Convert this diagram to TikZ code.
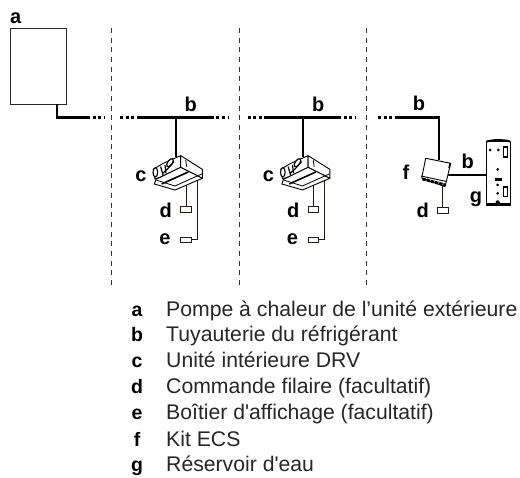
\documentclass[tikz,border=0pt]{standalone}
\usepackage{fontspec}
\setmainfont{Liberation Sans}
\tikzset{
  x=1pt,y=-1pt,
  pipe/.style={line width=2.1pt,black},
  pipedots/.style={line width=2.1pt,black,dash pattern=on 3pt off 2.6pt},
  wire/.style={line width=0.8pt,black!80!brown},
  divider/.style={line width=0.7pt,black!80,dash pattern=on 5pt off 4.7pt},
  tag/.style={font=\bfseries\fontsize{20}{20}\selectfont,inner sep=0pt,anchor=base},
  legkey/.style={font=\bfseries\fontsize{19.5}{19.5}\selectfont,inner sep=0pt,anchor=base},
  legtext/.style={font=\fontsize{21.2}{21.2}\selectfont,inner sep=0pt,anchor=base west,black!85},
  ctrl/.style={draw=black!80!brown,fill=white,line width=0.8pt,minimum width=10.5pt,minimum height=5.5pt,inner sep=0pt},
  outl/.style={draw=black,fill=white,line width=0.9pt,line join=round},
}
\newcommand{\vrfunit}[1]{%
\begin{scope}[shift={(#1,110)},x=0.3333pt,y=-0.3333pt]
  \draw[outl] (182,137) -- (130,160) -- (100,178) -- (105,207) -- (125,200) -- (182,172) -- cycle;
  \draw[outl] (182,137) -- (247,178) -- (247,205) -- (182,172) -- cycle;
  \draw[outl] (182,172) -- (247,205) -- (165,240) -- (103,222) -- (108,208) -- cycle;
  \draw[line width=0.8pt] (108,210) -- (165,228) -- (245,192);
  \draw[line width=1.6pt] (125,222) -- (205,186);
  \draw[line width=0.8pt] (197,150) -- (200,170);
  \draw[line width=1.1pt,fill=white] (106,187) ellipse[x radius=7,y radius=14];
  \draw[line width=1.2pt,fill=white,rotate around={55:(150,158)}] (150,158) ellipse[x radius=14,y radius=7];
  \draw[line width=1.2pt] (122,170) -- (130,198) (135,165) -- (138,190);
  \draw[line width=1.2pt] (128,190) .. controls (140,180) and (145,175) .. (162,155);
\end{scope}}
\begin{document}
\begin{tikzpicture}
\useasboundingbox (0,0) rectangle (520,478);
% dividers
\coordinate (d1t) at (111.7,28); \coordinate (d1b) at (111.7,288);
\coordinate (d2t) at (239,28);   \coordinate (d2b) at (239,288);
\coordinate (d3t) at (366.7,28); \coordinate (d3b) at (366.7,288);
\draw[divider] (d1t) -- (d1b);
\draw[divider] (d2t) -- (d2b);
\draw[divider] (d3t) -- (d3b);
% outdoor unit
\node[draw=black!85,line width=0.9pt,minimum width=56.7pt,minimum height=76pt,inner sep=0pt] (a) at (38.3,66.3) {};
\node[tag] (la) at (15.7,24) {a};
\coordinate (a1) at (56.7,104.3);
\coordinate (a2) at (56.7,117.5);
\coordinate (a3) at (87,117.5);
\coordinate (a4) at (104,117.5);
\draw[pipe,line join=miter] (a1) -- (a2) -- (a3);
\draw[pipedots] (a3) -- (a4);
% sections 2 and 3
\foreach \o/\n in {0/A,127.5/B}{
  \coordinate (l\n) at ({120+\o},117.5);
  \coordinate (m\n) at ({136.7+\o},117.5);
  \coordinate (r\n) at ({210.7+\o},117.5);
  \coordinate (s\n) at ({228+\o},117.5);
  \coordinate (t\n) at ({175.7+\o},117.5);
  \coordinate (u\n) at ({175.7+\o},157);
  \draw[pipedots] (l\n) -- (m\n);
  \draw[pipe] (m\n) -- (r\n);
  \draw[pipedots] (r\n) -- (s\n);
  \draw[pipe] (t\n) -- (u\n);
  \node[ctrl] (d\n) at ({186+\o},209.5) {};
  \node[ctrl] (e\n) at ({186+\o},239.7) {};
  \draw[wire] ({186+\o},185) -- (d\n.north);
  \draw[wire] ({197.3+\o},181) |- (e\n.east);
  \vrfunit{120+\o}
  \node[tag] at ({190.7+\o},111.7) {b};
  \node[tag] at ({141+\o},181.7) {c};
  \node[tag] at ({165.7+\o},217.3) {d};
  \node[tag] at ({165+\o},245) {e};
}
% section 4
\coordinate (p1) at (378,117.5);
\coordinate (p2) at (398,117.5);
\coordinate (p3) at (439,117.5);
\coordinate (p4) at (439,160);
\draw[pipedots] (p1) -- (p2);
\draw[pipe,line join=miter] (p2) -- (p3) -- (p4);
\node[tag] at (419,110.7) {b};
% kit
\coordinate (k1) at (448,175);
\coordinate (k2) at (487,175);
\draw[line width=1.6pt] (k1) -- (k2);
\draw[wire] (442.7,186) -- (442.7,207);
\draw[outl] (425.7,158.3) -- (450.7,163.3) -- (445,186.7) -- (421.7,178) -- cycle;
\draw[line width=0.9pt] (421,176) -- (446.5,181.5);
\draw[line width=2.8pt,dash pattern=on 3.5pt off 0.8pt] (422.5,179) -- (445.5,185);
\draw[line width=1.4pt] (450,163.5) -- (449,168);
\node[tag] at (467.7,169) {b};
\node[tag] at (406,180) {f};
% remote d
\node[ctrl,minimum width=10.5pt,minimum height=6pt] (dC) at (442.7,210) {};
\node[tag] at (422.7,218) {d};
% tank
\draw[outl,line width=0.8pt] (486.7,141) -- (510,141) -- (510,205) -- (486.7,205) -- cycle;
\draw[line width=2pt] (486.7,141.5) .. controls (495,139.5) and (502,139.5) .. (510,141.5);
\draw[line width=2pt] (486.7,204.5) -- (510,204.5);
\foreach \x/\y in {490/150,498.3/150,497.7/169.3,497.7/185,497.7/193.3}{\fill (\x,\y) circle[radius=1.5];}
\fill (495,177.7) rectangle (501.7,180.7);
\fill (497.7,202.5) circle[radius=2.2];
\draw[line width=1.2pt,fill=white] (503.5,147) rectangle (507.3,157);
\draw[line width=1.2pt,fill=white] (503.5,187) rectangle (507.3,196.7);
\node[tag] at (476,203) {g};
% legend
\foreach \k/\t/\y in {a/{Pompe à chaleur de l’unité extérieure}/316.7,
  b/{Tuyauterie du réfrigérant}/342,
  c/{Unité intérieure DRV}/368,
  d/{Commande filaire (facultatif)}/394,
  e/{Boîtier d\textquotesingle affichage (facultatif)}/420,
  f/{Kit ECS}/446.7,
  g/{Réservoir d\textquotesingle eau}/471.7}{
  \node[legkey] (k\k) at (137,\y) {\k};
  \node[legtext] (t\k) at (166,\y) {\t};
}
\end{tikzpicture}
\end{document}
